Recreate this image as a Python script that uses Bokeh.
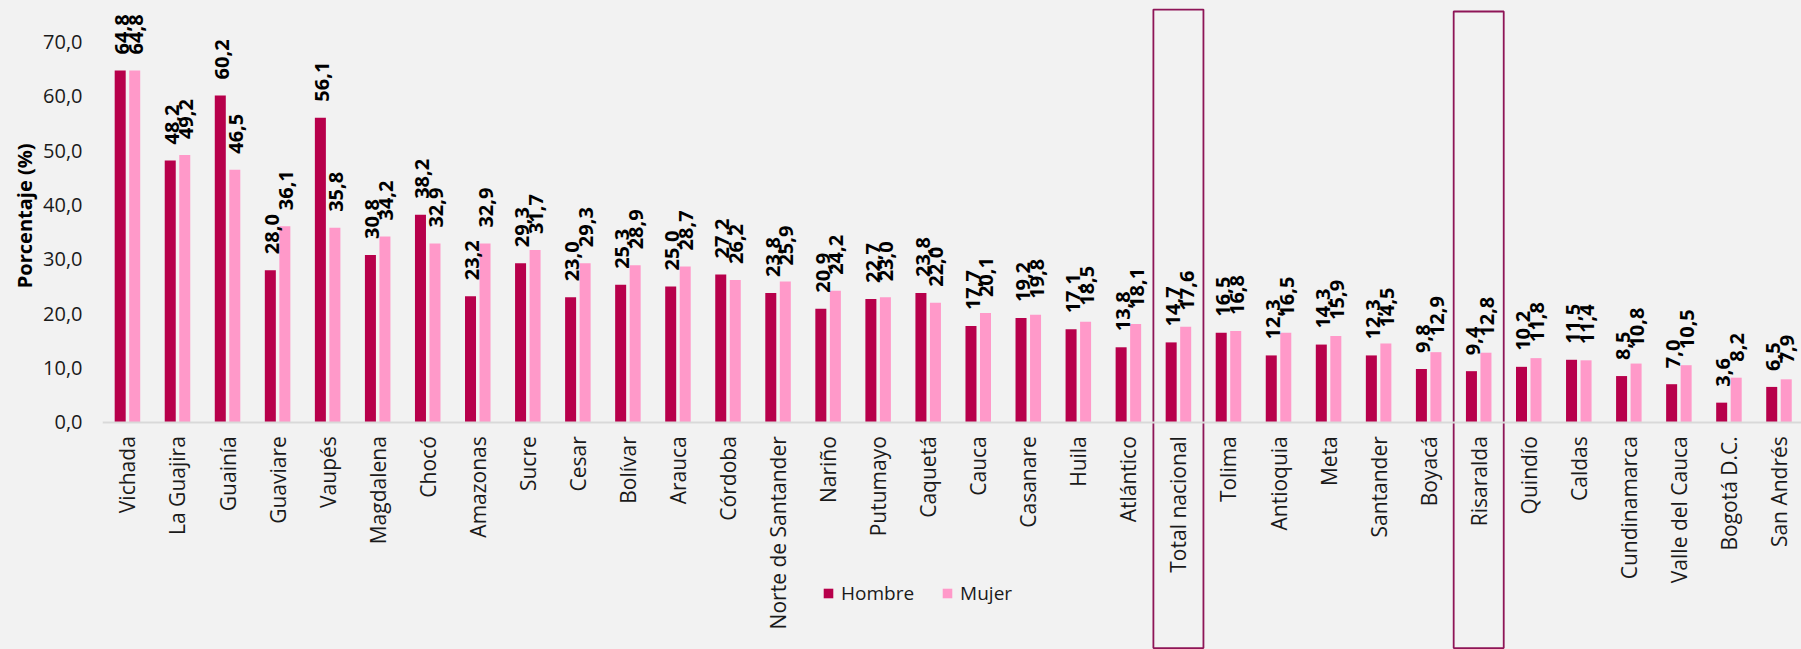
import math
from bokeh.plotting import figure
from bokeh.models import ColumnDataSource, Range1d, FixedTicker, Legend, LegendItem, Title
from bokeh.core.properties import value
from bokeh.transform import dodge
from bokeh.embed import file_html
from bokeh.resources import INLINE

categories = ["Vichada", "La Guajira", "Guainía", "Guaviare", "Vaupés", "Magdalena", "Chocó",
              "Amazonas", "Sucre", "Cesar", "Bolívar", "Arauca", "Córdoba", "Norte de Santander",
              "Nariño", "Putumayo", "Caquetá", "Cauca", "Casanare", "Huila", "Atlántico",
              "Total nacional", "Tolima", "Antioquia", "Meta", "Santander", "Boyacá", "Risaralda",
              "Quindío", "Caldas", "Cundinamarca", "Valle del Cauca", "Bogotá D.C.", "San Andrés"]
hombre = [64.8, 48.2, 60.2, 28.0, 56.1, 30.8, 38.2, 23.2, 29.3, 23.0, 25.3, 25.0, 27.2, 23.8,
          20.9, 22.7, 23.8, 17.7, 19.2, 17.1, 13.8, 14.7, 16.5, 12.3, 14.3, 12.3, 9.8, 9.4,
          10.2, 11.5, 8.5, 7.0, 3.6, 6.5]
mujer = [64.8, 49.2, 46.5, 36.1, 35.8, 34.2, 32.9, 32.9, 31.7, 29.3, 28.9, 28.7, 26.2, 25.9,
         24.2, 23.0, 22.0, 20.1, 19.8, 18.5, 18.1, 17.6, 16.8, 16.5, 15.9, 14.5, 12.9, 12.8,
         11.8, 11.4, 10.8, 10.5, 8.2, 7.9]
y_ticks = [0, 10, 20, 30, 40, 50, 60, 70]
y_tick_labels = ["0,0", "10,0", "20,0", "30,0", "40,0", "50,0", "60,0", "70,0"]
highlighted = ["Total nacional", "Risaralda"]
series_names = ["Hombre", "Mujer"]
y_title = "Porcentaje (%)"

C_H = "#B7004B"
C_M = "#FF99C9"
BG = "#F2F2F2"
BOX = "#8E1557"
FONT = value("Open Sans")


def fmt(v):
    return f"{v:.1f}".replace(".", ",")


idx = list(range(len(categories)))
src = ColumnDataSource(dict(x=idx, hombre=hombre, mujer=mujer,
                            lh=[fmt(v) for v in hombre], lm=[fmt(v) for v in mujer]))

p = figure(width=1801, height=649, x_range=Range1d(-0.4985, 33.45), y_range=Range1d(-41.87, 77.68),
           output_backend="svg", toolbar_location=None,
           min_border_left=102, min_border_right=0, min_border_top=0, min_border_bottom=0,
           background_fill_color=BG, border_fill_color=BG, outline_line_color=None)

rh = p.vbar(x=dodge("x", -0.145, range=p.x_range), top="hombre", width=0.22, source=src,
            fill_color=C_H, line_color=None)
rm = p.vbar(x=dodge("x", 0.145, range=p.x_range), top="mujer", width=0.22, source=src,
            fill_color=C_M, line_color=None)

common = dict(angle=math.pi / 2, text_align="left", text_baseline="middle", y_offset=-16,
              text_font=FONT, text_font_style="bold", text_font_size="20px", text_color="#000000")
p.text(x=dodge("x", -0.11, range=p.x_range), y="hombre", text="lh", source=src, **common)
p.text(x=dodge("x", 0.165, range=p.x_range), y="mujer", text="lm", source=src, **common)

# highlight boxes
box_idx = [categories.index(c) for c in highlighted]
p.quad(left=[i - 0.5 for i in box_idx], right=[i + 0.5 for i in box_idx],
       top=[76.0, 75.65], bottom=[-41.6, -41.6],
       fill_color=None, line_color=BOX, line_width=1.8)

p.xgrid.visible = False
p.ygrid.visible = False

xa = p.xaxis[0]
xa.ticker = FixedTicker(ticks=idx)
xa.major_label_overrides = {i: c for i, c in enumerate(categories)}
xa.fixed_location = 0
xa.major_label_orientation = math.pi / 2
xa.axis_line_color = "#D9D9D9"
xa.axis_line_width = 2
xa.major_tick_line_color = None
xa.minor_tick_line_color = None
xa.major_tick_out = 0
xa.major_tick_in = 0
xa.major_label_standoff = 14
xa.major_label_text_font = "Open Sans"
xa.major_label_text_font_size = "21px"
xa.major_label_text_color = "#1A1A1A"

ya = p.yaxis[0]
ya.ticker = FixedTicker(ticks=y_ticks)
ya.major_label_overrides = {t: l for t, l in zip(y_ticks, y_tick_labels)}
ya.axis_line_color = None
ya.major_tick_line_color = None
ya.minor_tick_line_color = None
ya.major_tick_out = 0
ya.major_tick_in = 0
ya.major_label_standoff = 20
ya.major_label_text_font = "Open Sans"
ya.major_label_text_font_size = "20px"
ya.major_label_text_color = "#1A1A1A"

p.add_layout(Title(text=y_title, align="right", offset=143, text_font="Open Sans",
                   text_font_style="bold", text_font_size="20px", text_color="#000000",
                   standoff=5), "left")

legend = Legend(items=[LegendItem(label=series_names[0], renderers=[rh]),
                       LegendItem(label=series_names[1], renderers=[rm])],
                location=(720, 43), orientation="horizontal", padding=0, margin=0,
                spacing=27, label_standoff=7, glyph_width=12, glyph_height=12,
                label_text_font="Open Sans", label_text_font_size="19px",
                label_text_color="#1A1A1A", border_line_color=None,
                background_fill_alpha=0)
p.add_layout(legend)

html = file_html(p, INLINE).replace("<head>", "<head><style>body{background:#F2F2F2}</style>", 1)
open("out.html", "w").write(html)
